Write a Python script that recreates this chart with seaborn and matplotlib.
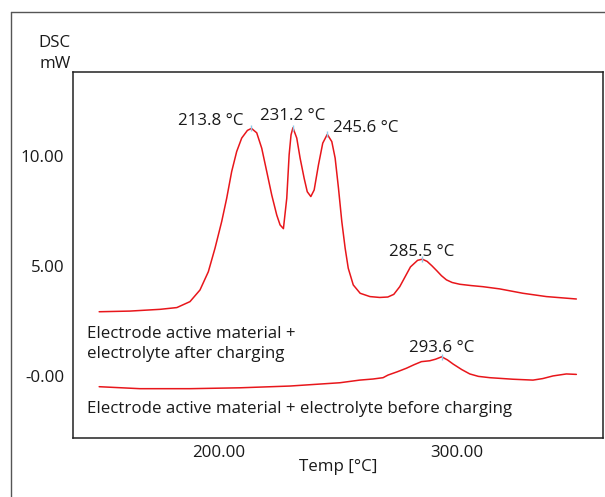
import numpy as np
import pandas as pd
import matplotlib
matplotlib.use("Agg")
import matplotlib.pyplot as plt
from matplotlib.lines import Line2D
from matplotlib.ticker import MultipleLocator, FixedLocator, FixedFormatter
import seaborn as sns

# ---------------- data ----------------
after_temp = [149.9, 162.8, 175.5, 182.5, 188.0, 192.2, 195.7, 198.5, 201.3, 203.4,
              205.5, 207.6, 209.7, 212.1, 213.8, 216.0, 218.1, 220.2, 222.3, 224.4,
              225.8, 227.2, 228.6, 229.6, 230.4, 231.2, 232.8, 234.2, 235.9, 237.2,
              238.7, 240.1, 241.9, 243.7, 245.6, 247.5, 248.9, 250.3, 251.7, 253.1,
              254.4, 256.5, 259.4, 263.5, 267.6, 271.0, 273.5, 276.0, 278.5, 280.5,
              283.5, 285.5, 287.5, 289.5, 291.5, 293.5, 295.6, 298.0, 301.2, 306.0,
              310.9, 317.9, 327.7, 337.5, 350.1]
after_dsc = [2.91, 2.94, 3.02, 3.10, 3.37, 3.90, 4.73, 5.80, 7.01, 8.07,
             9.29, 10.20, 10.81, 11.16, 11.25, 11.05, 10.35, 9.29, 8.22, 7.31,
             6.86, 6.69, 8.07, 10.05, 10.96, 11.28, 10.81, 9.90, 8.98, 8.37,
             8.15, 8.45, 9.59, 10.58, 10.98, 10.65, 9.90, 8.53, 7.01, 5.80,
             4.89, 4.13, 3.75, 3.60, 3.56, 3.58, 3.70, 4.05, 4.55, 4.95,
             5.25, 5.30, 5.20, 5.00, 4.78, 4.55, 4.36, 4.24, 4.16, 4.10,
             4.05, 3.95, 3.75, 3.60, 3.49]

before_temp = [149.9, 167.0, 188.0, 208.9, 229.9, 250.9, 259.2, 264.8, 269.0, 271.1,
               275.0, 278.8, 282.0, 285.1, 288.6, 291.0, 293.6, 296.0, 298.4, 302.0,
               305.4, 309.0, 313.8, 323.5, 331.9, 336.0, 340.3, 345.9, 350.1]
before_dsc = [-0.50, -0.59, -0.59, -0.55, -0.47, -0.32, -0.20, -0.15, -0.09, 0.03,
              0.18, 0.34, 0.50, 0.64, 0.68, 0.75, 0.86, 0.72, 0.53, 0.28,
              0.08, -0.03, -0.09, -0.16, -0.20, -0.13, -0.01, 0.08, 0.06]

peak_temps = [213.8, 231.2, 245.6, 285.5, 293.6]
peak_dsc = [11.25, 11.28, 10.98, 5.30, 0.86]
peak_labels = ["213.8 °C", "231.2 °C", "245.6 °C", "285.5 °C", "293.6 °C"]

x_major = [200, 300]
x_major_labels = ["200.00", "300.00"]
y_major = [0, 5, 10]
y_major_labels = ["-0.00", "5.00", "10.00"]

series_names = ["Electrode active material +\nelectrolyte after charging",
                "Electrode active material + electrolyte before charging"]

# ---------------- style ----------------
sns.set_style("white")
plt.rcParams["font.family"] = ["Open Sans", "DejaVu Sans"]
FS = 12.15
plt.rcParams["font.size"] = FS

W, H = 605, 497
fig = plt.figure(figsize=(W / 100, H / 100), dpi=100)
ax = fig.add_axes([72.7 / W, 1 - 437.7 / H, (603.3 - 72.7) / W, (437.7 - 71.7) / H])

red = "#e8161b"
df_after = pd.DataFrame({"Temp": after_temp, "DSC": after_dsc})
df_before = pd.DataFrame({"Temp": before_temp, "DSC": before_dsc})
sns.lineplot(data=df_after, x="Temp", y="DSC", ax=ax, color=red, lw=1.1, sort=False,
             estimator=None)
sns.lineplot(data=df_before, x="Temp", y="DSC", ax=ax, color=red, lw=1.1, sort=False,
             estimator=None)

# peak markers
ax.plot(peak_temps, peak_dsc, linestyle="none", marker="|", color="#8fc8e8",
        markersize=4, mew=1.0, zorder=3)

ax.set_xlim(138.8, 361.4)
ax.set_ylim(-2.82, 13.83)
ax.set_xlabel("")
ax.set_ylabel("")

ax.xaxis.set_major_locator(FixedLocator(x_major))
ax.xaxis.set_major_formatter(FixedFormatter(x_major_labels))
ax.xaxis.set_minor_locator(MultipleLocator(20))
ax.yaxis.set_major_locator(FixedLocator(y_major))
ax.yaxis.set_major_formatter(FixedFormatter(y_major_labels))
ax.yaxis.set_minor_locator(MultipleLocator(1))

ax.tick_params(axis="both", which="both", direction="in", colors="#222222",
               labelcolor="#1a1a1a", labelsize=FS, width=1.0)
ax.tick_params(axis="both", which="major", length=5)
ax.tick_params(axis="both", which="minor", length=3.5)
ax.tick_params(axis="y", which="major", pad=6)
ax.tick_params(axis="x", which="major", pad=5)
ax.tick_params(top=False, right=False, which="both")

for s in ax.spines.values():
    s.set_color("#222222")
    s.set_linewidth(1.1)

# peak annotations
label_pos = [(196.9, 11.41), (231.3, 11.64), (261.7, 11.10), (285.1, 5.45), (293.5, 1.07)]
for (tx, ty), lab in zip(label_pos, peak_labels):
    ax.text(tx, ty, lab, ha="center", va="baseline", fontsize=FS, color="#1a1a1a")

# series labels
l1, l2 = series_names[0].split("\n")
ax.text(144.65, 1.70, l1, ha="left", va="baseline", fontsize=FS, color="#1a1a1a")
ax.text(144.65, 0.79, l2, ha="left", va="baseline", fontsize=FS, color="#1a1a1a")
ax.text(144.65, -1.71, series_names[1], ha="left", va="baseline", fontsize=FS,
        color="#1a1a1a")

# axis titles
fig.text(71 / W, 1 - 46.7 / H, "DSC", ha="right", va="baseline", fontsize=FS,
         color="#1a1a1a")
fig.text(71 / W, 1 - 68.3 / H, "mW", ha="right", va="baseline", fontsize=FS,
         color="#1a1a1a")
fig.text(338 / W, 1 - 471 / H, "Temp [°C]", ha="center", va="baseline", fontsize=FS,
         color="#1a1a1a")

# outer frame
fig.add_artist(Line2D([11.3 / W, 11.3 / W], [0, 1 - 12.3 / H], transform=fig.transFigure,
                      color="#555555", lw=1.0))
fig.add_artist(Line2D([11.3 / W, 1.0], [1 - 12.3 / H, 1 - 12.3 / H],
                      transform=fig.transFigure, color="#555555", lw=1.0))

fig.savefig("out.png", dpi=100)
